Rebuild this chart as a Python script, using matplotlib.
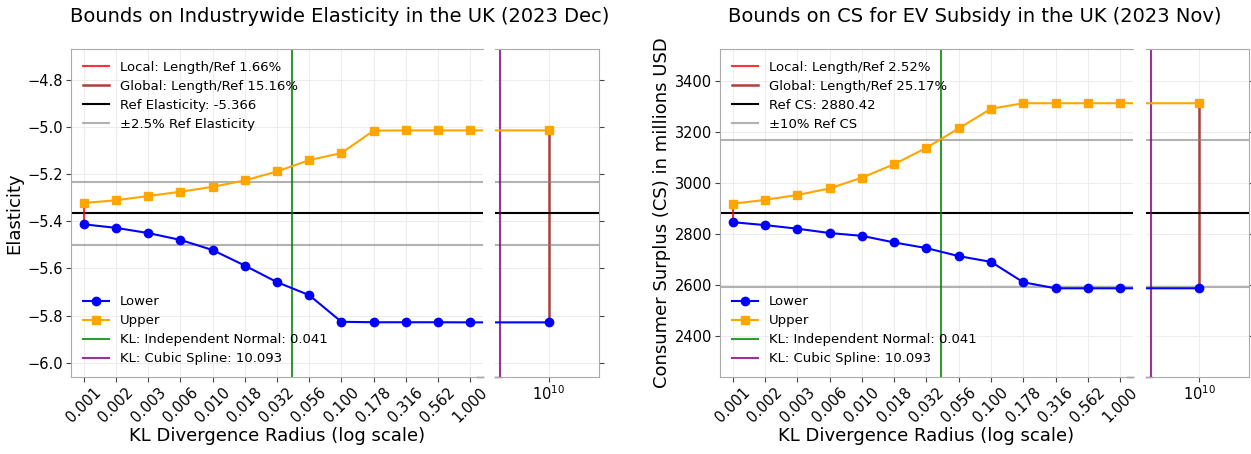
import numpy as np
import matplotlib
matplotlib.use("Agg")
import matplotlib.pyplot as plt

# KL divergence radii (10^-3 ... 10^0 in quarter decades) plus the "unbounded" radius
radii = [0.001, 0.00178, 0.00316, 0.00562, 0.01, 0.0178, 0.0316, 0.0562,
         0.1, 0.178, 0.316, 0.562, 1.0, 1e10]
radius_labels = ["0.001", "0.002", "0.003", "0.006", "0.010", "0.018", "0.032",
                 "0.056", "0.100", "0.178", "0.316", "0.562", "1.000"]

# elasticity panel
elas_lower = [-5.413, -5.428, -5.450, -5.479, -5.522, -5.588, -5.658, -5.713,
              -5.826, -5.828, -5.828, -5.828, -5.8285, -5.8285]
elas_upper = [-5.3225, -5.311, -5.293, -5.275, -5.254, -5.227, -5.189, -5.141,
              -5.111, -5.016, -5.015, -5.015, -5.015, -5.015]
elas_ref = -5.366
elas_band = 0.025
elas_local, elas_global = 1.66, 15.16

# consumer surplus panel
cs_lower = [2845.4, 2834, 2820, 2803, 2792, 2766, 2744, 2712.6, 2690, 2610,
            2586.5, 2586.5, 2586.5, 2586.5]
cs_upper = [2918, 2933, 2952, 2978, 3020, 3073, 3137, 3213, 3290, 3311.5,
            3311.5, 3311.5, 3311.5, 3311.5]
cs_ref = 2880.42
cs_band = 0.10
cs_local, cs_global = 2.52, 25.17

kl_indep_normal = 0.041
kl_cubic_spline = 10.093

W, H = 1251, 454
fig = plt.figure(figsize=(W / 100, H / 100), dpi=100)


def px_axes(x0, x1, y0=49, y1=377):
    return fig.add_axes([x0 / W, (H - y1) / H, (x1 - x0) / W, (y1 - y0) / H])


def draw_panel(ax, ax2, lower, upper, ref, band, local, glob, ref_name, band_name,
               ylim, yticks, title, title_x, ylabel):
    for a in (ax, ax2):
        a.set_xscale("log")
        a.grid(True, color="#ededed", linewidth=0.8)
        a.set_axisbelow(True)
        for s in a.spines.values():
            s.set_color("#aaaaaa")
        l_glob, = a.plot([radii[-1], radii[-1]], [min(lower), max(upper)], color="brown",
                         alpha=0.9, lw=1.8, label=f"Global: Length/Ref {glob:.2f}%")
        l_ref = a.axhline(ref, color="black", lw=1.5, label=ref_name)
        l_band = a.axhline(ref * (1 + band), color="gray", alpha=0.6, lw=1.5, label=band_name)
        a.axhline(ref * (1 - band), color="gray", alpha=0.6, lw=1.5)
        l_in = a.axvline(kl_indep_normal, color="green", alpha=0.8, lw=1.5,
                         label=f"KL: Independent Normal: {kl_indep_normal}")
        l_cs = a.axvline(kl_cubic_spline, color="purple", alpha=0.8, lw=1.5,
                         label=f"KL: Cubic Spline: {kl_cubic_spline}")
        a.set_ylim(*ylim)
        a.set_yticks(yticks)
        a.tick_params(colors="#444444", labelcolor="black", labelsize=10.5, pad=2)

    l_loc, = ax.plot([radii[0], radii[0]], [lower[0], upper[0]], color="red", alpha=0.8,
                     lw=1.5, label=f"Local: Length/Ref {local:.2f}%")
    l_lo, = ax.plot(radii, lower, "o-", color="blue", ms=6, lw=1.5, label="Lower")
    l_up, = ax.plot(radii, upper, "s-", color="orange", ms=6, lw=1.5, label="Upper")
    # the far-out radius: lines continue in from the left, marker only on the last point
    ax2.plot(radii, lower, "-", color="blue", lw=1.5)
    ax2.plot(radii, upper, "-", color="orange", lw=1.5)
    ax2.plot(radii[-1:], lower[-1:], "o", color="blue", ms=6)
    ax2.plot(radii[-1:], upper[-1:], "s", color="orange", ms=6)

    ax.set_xlim(10 ** -3.1, 10 ** 0.1)
    ax.set_xticks(radii[:-1])
    ax.set_xticklabels(radius_labels, rotation=45)
    ax.minorticks_off()
    ax.spines["right"].set_visible(False)
    ax.set_xlabel("KL Divergence Radius (log scale)", fontsize=13, labelpad=1)
    ax.set_ylabel(ylabel, fontsize=13, labelpad=3)
    fig.text(title_x / W, 1 - 16 / H, title, fontsize=14, ha="center", va="center")

    ax2.set_xlim(10 ** 0.02, 10 ** 19.4)
    ax2.set_xticks([1e10])
    ax2.minorticks_off()
    ax2.spines["left"].set_visible(False)
    ax2.yaxis.tick_right()
    ax2.tick_params(labelright=False)

    # break marks
    kw = dict(transform=ax.transAxes, color="#555555", lw=1, clip_on=False)
    ax.plot((0.985, 1.0), (0, 0), **kw)
    kw.update(transform=ax2.transAxes)
    ax2.plot((0.0, 0.06), (0, 0), **kw)

    leg1 = ax.legend(handles=[l_loc, l_glob, l_ref, l_band], loc="upper left",
                     frameon=False, fontsize=9.5, labelspacing=0.45)
    ax.add_artist(leg1)
    ax.legend(handles=[l_lo, l_up, l_in, l_cs], loc="lower left", frameon=False,
              fontsize=9.5, labelspacing=0.45)


ax_a = px_axes(71, 483)
ax_b = px_axes(495, 599)
draw_panel(ax_a, ax_b, elas_lower, elas_upper, elas_ref, elas_band, elas_local, elas_global,
           f"Ref Elasticity: {elas_ref}", "±2.5% Ref Elasticity", (-6.06, -4.67),
           [-6.0, -5.8, -5.6, -5.4, -5.2, -5.0, -4.8],
           "Bounds on Industrywide Elasticity in the UK (2023 Dec)", 340, "Elasticity")

ax_c = px_axes(720, 1133)
ax_d = px_axes(1146, 1249)
draw_panel(ax_c, ax_d, cs_lower, cs_upper, cs_ref, cs_band, cs_local, cs_global,
           f"Ref CS: {cs_ref}", "±10% Ref CS", (2239, 3524),
           [2400, 2600, 2800, 3000, 3200, 3400],
           "Bounds on CS for EV Subsidy in the UK (2023 Nov)", 975,
           "Consumer Surplus (CS) in millions USD")

fig.savefig("out.png", dpi=100)
